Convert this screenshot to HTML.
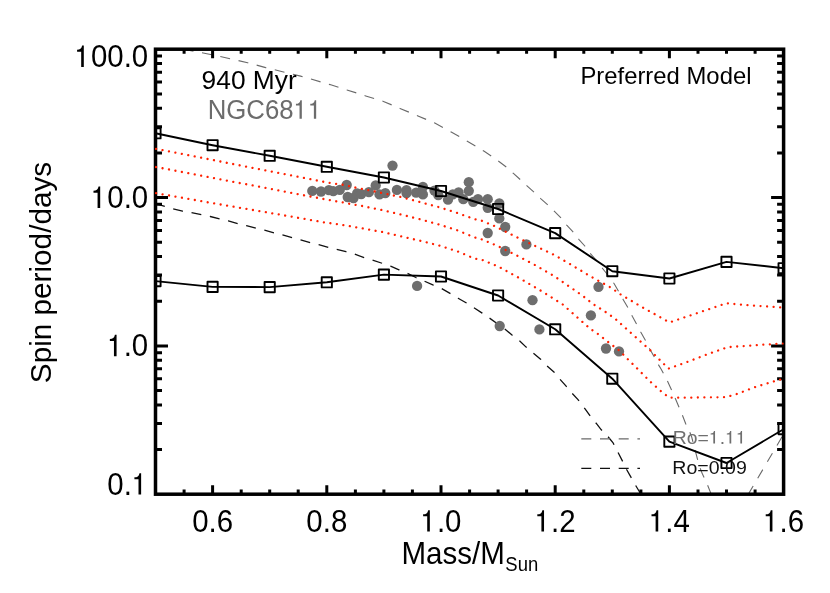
<!DOCTYPE html><html><head><meta charset="utf-8"><style>html,body{margin:0;padding:0;background:#fff}svg{display:block;will-change:transform}text{font-family:"Liberation Sans",sans-serif}</style></head><body>
<svg width="830" height="593" viewBox="0 0 830 593">
<rect width="830" height="593" fill="#fff"/>
<defs><clipPath id="c"><rect x="154.5" y="49.2" width="629.1" height="445.0"/></clipPath><clipPath id="c2"><rect x="155.5" y="49.2" width="628.1" height="445.0"/></clipPath></defs>
<g clip-path="url(#c)" fill="none">
<polyline points="155.5,43.3 186.0,49.6 220.0,56.4 247.6,62.7 265.7,67.6 300.6,76.1 330.0,84.6 346.9,89.9 365.7,95.9 383.5,101.4 400.6,108.7 418.0,115.9 434.8,123.1 451.2,132.0 467.3,141.2 484.2,151.3 490.8,155.7 499.3,161.7 506.5,167.2 513.7,173.7 520.5,179.8 527.0,185.8 534.2,192.3 540.7,198.6 547.5,204.6 554.7,211.6 560.7,217.6 566.7,225.1 572.8,231.6 578.8,239.3 584.8,246.0 589.6,252.8 595.7,259.5 602.2,268.0 607.0,274.0 614.2,283.7 619.0,292.2 623.1,299.4 628.0,307.8 632.3,316.3 636.6,324.2 640.7,331.9 645.5,340.4 649.6,348.8 654.5,357.2 658.3,364.5 661.2,369.3 667.0,380.0 674.8,397.2 678.4,405.7 682.0,414.1 685.7,423.7 688.8,429.8 691.7,437.0 698.9,464.7 702.0,473.1 706.1,481.6 711.0,493.6 716.0,506.0" stroke="#6a6a6a" stroke-width="1.1" stroke-dasharray="10 8.69" stroke-dashoffset="8.63"/>
<path d="M748.1 494.6L784 433.5" stroke="#6a6a6a" stroke-width="1.1" stroke-dasharray="10 9"/>
<polyline points="155.5,203.7 172.9,208.8 182.5,211.2 191.0,212.4 201.8,214.8 210.2,216.5 219.9,218.9 228.3,220.8 238.0,223.7 246.4,225.7 256.0,228.2 264.5,230.2 274.1,232.9 282.5,234.9 292.2,237.7 300.6,239.8 310.2,242.6 318.7,244.6 328.3,247.3 336.7,249.4 346.0,251.7 354.5,254.1 364.1,257.7 372.5,260.1 382.2,263.3 390.6,266.1 399.0,269.8 407.5,273.4 415.9,277.5 424.3,281.1 432.8,284.9 441.2,288.3 449.6,293.1 458.1,298.2 466.5,303.0 473.7,307.6 482.2,313.1 489.4,318.0 497.8,324.0 505.1,329.3 512.3,335.3 519.5,340.8 526.1,347.1 533.4,353.1 540.6,359.2 547.1,365.9 553.9,371.9 559.9,379.2 565.9,385.9 571.9,393.1 578.0,399.6 584.5,408.1 590.5,416.5 596.5,423.7 601.3,429.8 607.3,435.8 612.9,442.5 618.2,452.7 622.5,461.1 626.6,469.5 631.4,478.0 635.5,485.2 639.9,492.5 645.0,502.0" stroke="#111" stroke-width="1.3" stroke-dasharray="10 8.73" stroke-dashoffset="0.3"/>
</g>
<path d="M581.3 438.9H640" stroke="#6a6a6a" stroke-width="1.1" stroke-dasharray="10 8.7" fill="none"/>
<path d="M581.3 468.4H640" stroke="#111" stroke-width="1.3" stroke-dasharray="10 8.7" fill="none"/>
<g fill="#6e6e6e"><circle cx="312.3" cy="190.9" r="5.15"/><circle cx="321" cy="191.5" r="5.15"/><circle cx="328.9" cy="190.2" r="5.15"/><circle cx="333.3" cy="191.2" r="5.15"/><circle cx="339.8" cy="189.8" r="5.15"/><circle cx="346.7" cy="185" r="5.15"/><circle cx="347.7" cy="197" r="5.15"/><circle cx="353.5" cy="198" r="5.15"/><circle cx="357.1" cy="193.4" r="5.15"/><circle cx="361.2" cy="194.1" r="5.15"/><circle cx="368.9" cy="192.2" r="5.15"/><circle cx="375.7" cy="185.4" r="5.15"/><circle cx="379.5" cy="194.4" r="5.15"/><circle cx="385.3" cy="193.1" r="5.15"/><circle cx="392.5" cy="165.6" r="5.15"/><circle cx="396.9" cy="189.9" r="5.15"/><circle cx="406.5" cy="190.2" r="5.15"/><circle cx="406.5" cy="193.1" r="5.15"/><circle cx="416.1" cy="192.7" r="5.15"/><circle cx="422.9" cy="187" r="5.15"/><circle cx="422.9" cy="194.4" r="5.15"/><circle cx="434.5" cy="190.6" r="5.15"/><circle cx="438.3" cy="195.1" r="5.15"/><circle cx="448" cy="199.7" r="5.15"/><circle cx="452.8" cy="194.3" r="5.15"/><circle cx="458.6" cy="192.5" r="5.15"/><circle cx="463.3" cy="199.2" r="5.15"/><circle cx="468.8" cy="182.2" r="5.15"/><circle cx="468.8" cy="190.8" r="5.15"/><circle cx="473.2" cy="201.8" r="5.15"/><circle cx="478" cy="199.2" r="5.15"/><circle cx="487.7" cy="199.2" r="5.15"/><circle cx="487.7" cy="207.8" r="5.15"/><circle cx="499.3" cy="203.5" r="5.15"/><circle cx="499.3" cy="218.4" r="5.15"/><circle cx="505.2" cy="227" r="5.15"/><circle cx="487.7" cy="233" r="5.15"/><circle cx="526.4" cy="244.4" r="5.15"/><circle cx="505.2" cy="251" r="5.15"/><circle cx="598.5" cy="286.9" r="5.15"/><circle cx="417.1" cy="285.9" r="5.15"/><circle cx="532.5" cy="300.2" r="5.15"/><circle cx="499.7" cy="326" r="5.15"/><circle cx="539.4" cy="329.4" r="5.15"/><circle cx="590.9" cy="315.4" r="5.15"/><circle cx="606" cy="348.5" r="5.15"/><circle cx="619" cy="351.4" r="5.15"/></g>
<g clip-path="url(#c2)" fill="none" stroke="#000" stroke-width="1.9" stroke-linejoin="round">
<polyline points="155.5,133.3 212.6,145.2 269.7,155.8 326.8,166.8 383.9,177.5 441.0,191.0 498.1,209.0 555.2,233.1 612.3,271.2 669.4,278.5 726.5,261.9 783.6,268.2"/>
<rect x="150.4" y="128.2" width="10.2" height="10.2"/>
<rect x="207.5" y="140.1" width="10.2" height="10.2"/>
<rect x="264.6" y="150.7" width="10.2" height="10.2"/>
<rect x="321.7" y="161.7" width="10.2" height="10.2"/>
<rect x="378.8" y="172.4" width="10.2" height="10.2"/>
<rect x="435.9" y="185.9" width="10.2" height="10.2"/>
<rect x="493.0" y="203.9" width="10.2" height="10.2"/>
<rect x="550.1" y="228.0" width="10.2" height="10.2"/>
<rect x="607.2" y="266.1" width="10.2" height="10.2"/>
<rect x="664.3" y="273.4" width="10.2" height="10.2"/>
<rect x="721.4" y="256.8" width="10.2" height="10.2"/>
<rect x="778.5" y="263.1" width="10.2" height="10.2"/>
<polyline points="155.5,281.1 212.6,286.9 269.7,287.1 326.8,282.3 383.9,274.6 441.0,276.5 498.1,295.5 555.2,329.3 612.3,378.7 669.4,441.6 726.5,463.0 783.6,429.2"/>
<rect x="150.4" y="276.0" width="10.2" height="10.2"/>
<rect x="207.5" y="281.8" width="10.2" height="10.2"/>
<rect x="264.6" y="282.0" width="10.2" height="10.2"/>
<rect x="321.7" y="277.2" width="10.2" height="10.2"/>
<rect x="378.8" y="269.5" width="10.2" height="10.2"/>
<rect x="435.9" y="271.4" width="10.2" height="10.2"/>
<rect x="493.0" y="290.4" width="10.2" height="10.2"/>
<rect x="550.1" y="324.2" width="10.2" height="10.2"/>
<rect x="607.2" y="373.6" width="10.2" height="10.2"/>
<rect x="664.3" y="436.5" width="10.2" height="10.2"/>
<rect x="721.4" y="457.9" width="10.2" height="10.2"/>
<rect x="778.5" y="424.1" width="10.2" height="10.2"/>
</g>
<rect x="155.5" y="49.2" width="628.1" height="445.0" fill="none" stroke="#000" stroke-width="3.5"/>
<path d="M184.1 494.2v-4.6M184.1 49.2v4.6M212.6 494.2v-9M212.6 49.2v9M241.2 494.2v-4.6M241.2 49.2v4.6M269.7 494.2v-4.6M269.7 49.2v4.6M298.2 494.2v-4.6M298.2 49.2v4.6M326.8 494.2v-9M326.8 49.2v9M355.4 494.2v-4.6M355.4 49.2v4.6M383.9 494.2v-4.6M383.9 49.2v4.6M412.4 494.2v-4.6M412.4 49.2v4.6M441.0 494.2v-9M441.0 49.2v9M469.6 494.2v-4.6M469.6 49.2v4.6M498.1 494.2v-4.6M498.1 49.2v4.6M526.6 494.2v-4.6M526.6 49.2v4.6M555.2 494.2v-9M555.2 49.2v9M583.8 494.2v-4.6M583.8 49.2v4.6M612.3 494.2v-4.6M612.3 49.2v4.6M640.9 494.2v-4.6M640.9 49.2v4.6M669.4 494.2v-9M669.4 49.2v9M698.0 494.2v-4.6M698.0 49.2v4.6M726.5 494.2v-4.6M726.5 49.2v4.6M755.1 494.2v-4.6M755.1 49.2v4.6M155.5 449.5h6.5M783.6 449.5h-6.5M155.5 423.4h6.5M783.6 423.4h-6.5M155.5 404.9h6.5M783.6 404.9h-6.5M155.5 390.5h6.5M783.6 390.5h-6.5M155.5 378.8h6.5M783.6 378.8h-6.5M155.5 368.8h6.5M783.6 368.8h-6.5M155.5 360.2h6.5M783.6 360.2h-6.5M155.5 352.7h6.5M783.6 352.7h-6.5M155.5 345.9h12.5M783.6 345.9h-12.5M155.5 301.2h6.5M783.6 301.2h-6.5M155.5 275.1h6.5M783.6 275.1h-6.5M155.5 256.6h6.5M783.6 256.6h-6.5M155.5 242.2h6.5M783.6 242.2h-6.5M155.5 230.4h6.5M783.6 230.4h-6.5M155.5 220.5h6.5M783.6 220.5h-6.5M155.5 211.9h6.5M783.6 211.9h-6.5M155.5 204.3h6.5M783.6 204.3h-6.5M155.5 197.5h12.5M783.6 197.5h-12.5M155.5 152.9h6.5M783.6 152.9h-6.5M155.5 126.8h6.5M783.6 126.8h-6.5M155.5 108.2h6.5M783.6 108.2h-6.5M155.5 93.9h6.5M783.6 93.9h-6.5M155.5 82.1h6.5M783.6 82.1h-6.5M155.5 72.2h6.5M783.6 72.2h-6.5M155.5 63.6h6.5M783.6 63.6h-6.5M155.5 56.0h6.5M783.6 56.0h-6.5" stroke="#000" stroke-width="3" fill="none"/>
<g clip-path="url(#c)" fill="none" stroke="#ff2000" stroke-width="2.3" stroke-linecap="round" stroke-dasharray="0.01 6.54" stroke-dashoffset="-0.6">
<polyline points="155.5,148.7 212.7,160.0 269.8,171.2 327.1,182.5 342.9,184.8 362.2,189.0 381.3,192.8 400.3,196.9 419.0,201.8 438.3,207.0 457.3,213.0 474.9,219.2 481.9,220.8 494.2,225.9 498.3,228.0 517.6,237.6 535.9,246.3 554.2,254.9 572.5,265.5 591.8,277.1 611.1,287.7 620.7,294.5 642.1,307.1 669.5,322.4 726.4,303.3 745.3,305.0 783.6,307.6"/>
<polyline points="155.5,166.9 212.7,177.9 269.8,188.7 327.1,199.7 342.9,202.4 349.0,203.7 361.7,205.9 381.2,209.9 400.3,214.4 419.2,219.0 438.3,224.3 457.1,230.2 474.9,237.5 481.9,239.5 498.3,246.3 517.6,255.9 535.9,265.5 554.2,276.1 572.5,288.7 582.2,295.4 593.6,304.4 604.5,311.2 615.3,318.9 626.1,328.6 638.2,339.4 650.2,350.2 662.3,362.5 668.5,368.6 686.4,362.3 705.7,354.9 727.5,347.2 758.7,345.0 783.6,343.5"/>
<polyline points="155.5,193.1 213.0,203.2 271.7,213.2 297.7,217.7 323.7,222.3 343.0,225.0 362.5,228.4 381.9,231.9 400.7,236.2 420.0,240.7 439.0,245.5 457.8,251.5 474.9,258.7 481.9,259.8 498.3,266.5 517.6,277.1 535.9,287.7 548.4,295.4 562.4,304.2 590.0,328.6 597.2,333.4 612.3,345.2 618.9,350.2 626.1,357.5 638.2,369.5 650.2,381.6 662.3,392.4 669.5,397.7 686.4,397.7 705.7,397.4 725.0,397.2 734.6,394.8 741.1,392.4 753.8,387.6 766.4,383.6 783.6,378.6"/>
</g>
<g transform="translate(148.2 66.9) scale(0.95 1)" fill="#000"><text font-size="31" x="-77.58 -60.33 -43.09 -25.85 -17.24"> 00.0</text><path transform="translate(-77.58 0) scale(0.03100 -0.03100)" d="M316 0H227V490H88V553C185 556 240 590 260 688H316Z"/></g>
<g transform="translate(148.2 207.9) scale(0.95 1)" fill="#000"><text font-size="31" x="-60.33 -43.09 -25.85 -17.24"> 0.0</text><path transform="translate(-60.33 0) scale(0.03100 -0.03100)" d="M316 0H227V490H88V553C185 556 240 590 260 688H316Z"/></g>
<g transform="translate(148.2 356.2) scale(0.95 1)" fill="#000"><text font-size="31" x="-43.09 -25.85 -17.24"> .0</text><path transform="translate(-43.09 0) scale(0.03100 -0.03100)" d="M316 0H227V490H88V553C185 556 240 590 260 688H316Z"/></g>
<g transform="translate(148.2 494.5) scale(0.95 1)" fill="#000"><text font-size="31" x="-43.09 -25.85 -17.24">0. </text><path transform="translate(-17.24 0) scale(0.03100 -0.03100)" d="M316 0H227V490H88V553C185 556 240 590 260 688H316Z"/></g>
<g transform="translate(212.6 531.5) scale(0.95 1)" fill="#000"><text font-size="31" x="-21.55 -4.31 4.31">0.6</text></g>
<g transform="translate(326.8 531.5) scale(0.95 1)" fill="#000"><text font-size="31" x="-21.55 -4.31 4.31">0.8</text></g>
<g transform="translate(441.0 531.5) scale(0.95 1)" fill="#000"><text font-size="31" x="-21.55 -4.31 4.31"> .0</text><path transform="translate(-21.55 0) scale(0.03100 -0.03100)" d="M316 0H227V490H88V553C185 556 240 590 260 688H316Z"/></g>
<g transform="translate(555.2 531.5) scale(0.95 1)" fill="#000"><text font-size="31" x="-21.55 -4.31 4.31"> .2</text><path transform="translate(-21.55 0) scale(0.03100 -0.03100)" d="M316 0H227V490H88V553C185 556 240 590 260 688H316Z"/></g>
<g transform="translate(669.4 531.5) scale(0.95 1)" fill="#000"><text font-size="31" x="-21.55 -4.31 4.31"> .4</text><path transform="translate(-21.55 0) scale(0.03100 -0.03100)" d="M316 0H227V490H88V553C185 556 240 590 260 688H316Z"/></g>
<g transform="translate(783.6 531.5) scale(0.95 1)" fill="#000"><text font-size="31" x="-21.55 -4.31 4.31"> .6</text><path transform="translate(-21.55 0) scale(0.03100 -0.03100)" d="M316 0H227V490H88V553C185 556 240 590 260 688H316Z"/></g>
<text transform="translate(401.4 563.7) scale(0.953 1)" font-size="31" text-anchor="start" fill="#000">Mass/M<tspan font-size="19.4" dy="7.1" dx="0.6">Sun</tspan></text>
<text transform="translate(50.8 272.5) rotate(-90) scale(0.997 1)" font-size="29.8" text-anchor="middle">Spin period/days</text>
<g transform="translate(201.6 89) scale(0.99 1)" fill="#000"><text font-size="26.6" x="0.00 14.79 29.59 44.38 51.77 73.93 87.23">940 Myr</text></g>
<g transform="translate(207.7 118.8) scale(0.955 1)" fill="#6c6c6c"><text font-size="27.0" x="0.00 19.50 40.50 60.00 75.01 90.03 105.05">NGC68  </text><path transform="translate(90.03 0) scale(0.02700 -0.02700)" d="M316 0H227V490H88V553C185 556 240 590 260 688H316Z"/><path transform="translate(105.05 0) scale(0.02700 -0.02700)" d="M316 0H227V490H88V553C185 556 240 590 260 688H316Z"/></g>
<g transform="translate(580.4 83.5) scale(0.966 1)" fill="#000"><text font-size="24.7" x="0.00 16.47 24.70 38.44 45.30 59.04 67.26 75.49 89.22 102.96 109.82 130.40 144.14 157.87 171.61">Preferred Model</text></g>
<g transform="translate(672.7 443.5) scale(1.068 1)" fill="#6f6f6f"><text font-size="18.2" x="0.00 13.14 23.27 33.89 44.02 49.07 59.19">Ro= .  </text><path transform="translate(33.89 0) scale(0.01820 -0.01820)" d="M316 0H227V490H88V553C185 556 240 590 260 688H316Z"/><path transform="translate(49.07 0) scale(0.01820 -0.01820)" d="M316 0H227V490H88V553C185 556 240 590 260 688H316Z"/><path transform="translate(59.19 0) scale(0.01820 -0.01820)" d="M316 0H227V490H88V553C185 556 240 590 260 688H316Z"/></g>
<g transform="translate(672.3 474.3) scale(1.058 1)" fill="#111"><text font-size="18.5" x="0.00 13.36 23.65 34.45 44.74 49.88 60.17">Ro=0.09</text></g>
</svg></body></html>
